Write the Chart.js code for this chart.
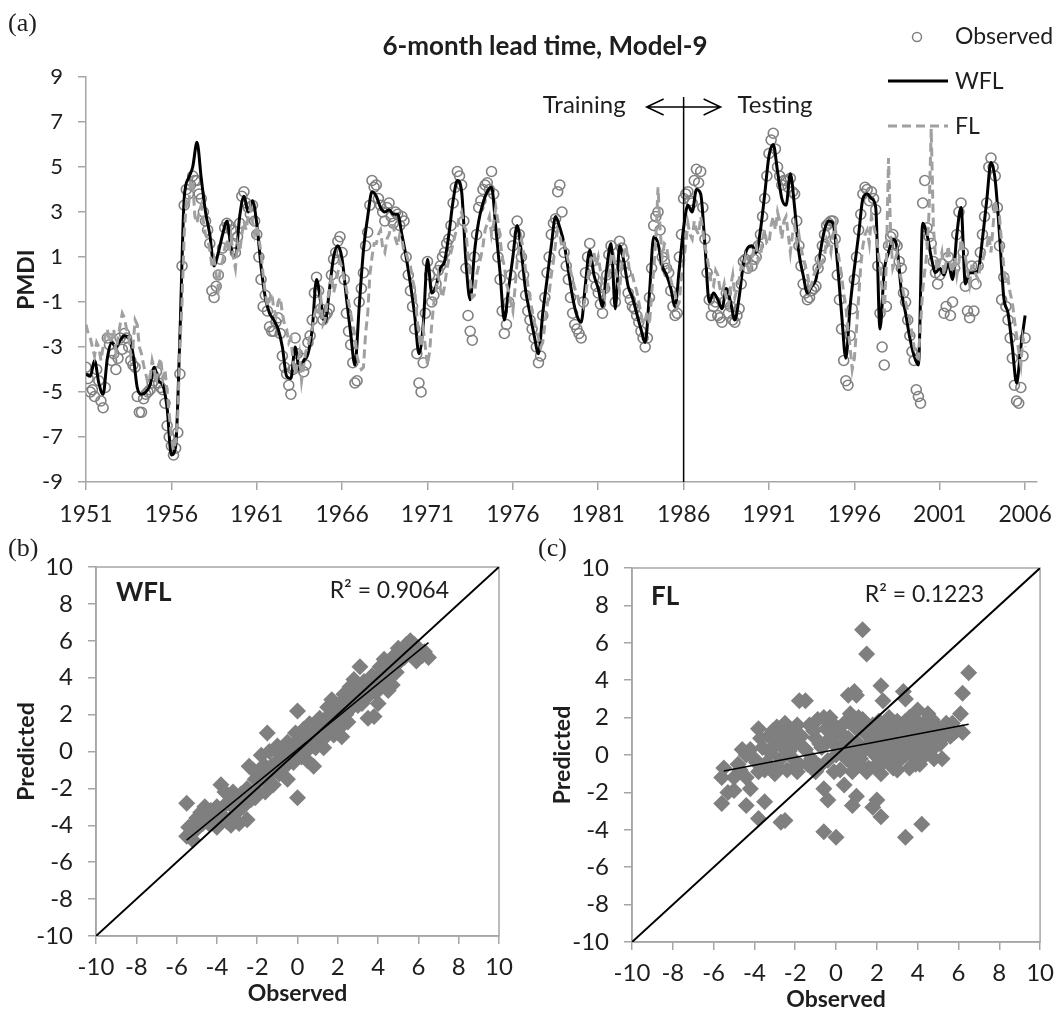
<!DOCTYPE html>
<html>
<head>
<meta charset="utf-8">
<title>PMDI 6-month lead time, Model-9</title>
<script src="https://cdn.jsdelivr.net/npm/chart.js@4.4.0/dist/chart.umd.min.js"></script>
<style>
  body { margin: 0; background: #fff; }
  #wrap { position: relative; width: 1063px; height: 1012px; overflow: hidden; background: #fff; }
  #wrap canvas { position: absolute; }
</style>
</head>
<body>
<div id="wrap">
  <canvas id="chart-ts" width="1063" height="525" style="left:0;top:0"></canvas>
  <canvas id="chart-wfl" width="530" height="487" style="left:0;top:525px"></canvas>
  <canvas id="chart-fl" width="533" height="487" style="left:530px;top:525px"></canvas>
</div>
<script>
// ---- time series (a): quarterly readings (.0 .25 .5 .75), one row per year ----
const startYear = 1951;
const stepYears = 0.25;
const midOffset = 0.125;   // the "Mid" arrays sit halfway between the quarterly readings
const yearTicks = [1951, 1956, 1961, 1966, 1971, 1976, 1981, 1986, 1991, 1996, 2001, 2006];
const pmdiTicks = [-9, -7, -5, -3, -1, 1, 3, 5, 7, 9];
const splitYear = 1986;

const observed = [
  -3.9, -5.0, -5.2, -4.5,   -5.7, -2.6, -3.6, -4.0,   -2.6, -2.4, -3.0, -3.8,   -5.2, -5.9, -5.1, -4.9,
  -4.3, -4.6, -4.9, -6.5,   -7.4, -7.5, -4.2, 3.3,    3.8, 4.6, 4.4, 3.6,       2.6, 1.6, -0.8, 0.2,
  1.4, 2.5, 2.2, 1.2,       2.5, 3.9, 3.2, 3.3,       2.0, 0.0, -0.7, -2.1,     -2.3, -1.7, -3.4, -4.2,
  -5.1, -2.6, -3.9, -4.1,   -2.8, -1.8, 0.1, -1.3,    -1.6, -1.3, 0.9, 1.7,     1.2, -1.5, -2.9, -4.6,
  -1.0, 0.3, 2.1, 4.4,      4.2, 3.3, 2.6, 3.4,       2.5, 2.9, 2.8, 1.0,       -0.5, -2.2, -4.6, -3.7,
  0.8, -1.0, -0.2, 0.6,     1.2, 1.8, 3.4, 4.8,       4.2, 0.5, -2.3, 1.0,      3.2, 4.0, 4.3, 4.8,
  2.0, 0.0, -2.4, -1.0,     1.5, 2.6, 1.0, -0.7,      -1.8, -2.6, -3.7, -1.6,   0.3, 2.0, 2.7, 4.2,
  1.2, 0.0, -1.5, -2.2,     -2.6, 0.3, 1.6, 0.1,      -0.6, -1.5, 0.2, 1.5,     -1.0, 1.7, 1.0, -0.6,
  -1.2, -1.6, -2.3, -3.0,   -0.8, 2.4, 3.0, 1.0,      0.5, -0.5, -1.6, 1.0,     3.6, 3.9, 3.4, 4.9,
  4.8, 1.8, -0.9, -1.2,     -1.6, -1.9, -0.6, -1.2,   -1.9, -1.3, 0.8, 0.5,     0.6, 1.0, 2.0, 3.6,
  5.6, 6.5, 5.0, 4.2,       4.4, 4.5, 3.8, 1.5,       -0.2, -0.9, -0.5, -0.3,   0.9, 2.0, 2.5, 2.6,
  0.2, -2.2, -4.5, -2.5,    0.0, 2.2, 3.8, 4.0,       3.9, 3.1, -1.5, -3.8,     1.5, 2.0, 1.5, 0.5,
  -1.0, -2.5, -3.6, -5.2,   3.4, 2.3, 1.6, 0.3,       0.2, -1.5, 1.0, -1.0,     2.0, 3.4, -0.3, -1.7,
  -1.4, 0.6, 2.0, 3.4,      5.4, 4.6, 1.5, 0.1,       -1.8, -3.5, -5.4, -4.8,   -2.6
];
const observedMid = [
  -4.4, -4.9, -4.0, -5.4,   -4.8, -2.9, -3.3, -3.5,   -3.1, -2.6, -3.6, -3.9,   -5.9, -5.3, -5.0, -4.6,
  -4.1, -4.8, -5.5, -7.0,   -7.8, -6.8, 0.6, 4.0,     4.2, 4.4, 3.8, 3.0,       2.2, -0.5, -0.3, 0.9,
  2.3, 2.4, 1.6, 1.9,       3.7, 3.4, 2.9, 2.6,       1.0, -1.2, -1.4, -2.3,    -1.9, -2.4, -3.9, -4.7,
  -4.0, -3.3, -3.5, -3.8,   -2.5, -0.6, -0.5, -1.8,   -1.5, 0.2, 1.2, 1.9,      0.0, -2.3, -3.7, -4.5,
  -0.4, 1.5, 3.3, 4.1,      3.6, 3.0, 3.2, 2.8,       3.0, 2.4, 2.6, 0.2,       -1.2, -3.3, -5.0, -1.5,
  0.2, -0.7, 0.4, 1.0,      1.6, 2.4, 4.1, 4.6,       2.6, -1.6, -2.7, 2.0,     3.5, 4.2, 4.0, 3.8,
  1.0, -1.4, -2.0, 0.2,     2.1, 2.0, 0.2, -1.4,      -2.2, -3.0, -3.4, -0.8,   1.0, 2.5, 3.9, 3.0,
  0.6, -0.8, -2.0, -2.4,    -1.0, 1.0, 0.8, -0.3,     -1.1, -0.4, 1.1, 0.5,     0.6, 1.4, 0.3, -0.9,
  -1.3, -1.9, -2.6, -2.6,   0.5, 2.8, 2.2, 0.8,       0.3, -1.2, -1.5, 2.0,     3.8, 3.5, 4.4, 4.3,
  3.2, 0.3, -1.6, -1.0,     -1.7, -1.0, -1.5, -1.8,   -1.6, -0.2, 0.9, 1.2,     0.9, 1.5, 2.8, 4.6,
  6.2, 5.8, 4.6, 4.4,       4.1, 3.9, 2.6, 0.6,       -0.6, -0.8, -0.4, 0.5,    1.5, 2.4, 2.6, 1.8,
  -0.9, -3.6, -4.7, -1.3,   1.0, 2.9, 4.1, 3.5,       3.6, 0.6, -3.0, -1.2,     1.9, 1.6, 0.8, -0.6,
  -1.8, -3.2, -4.9, -5.5,   4.4, 1.9, 0.8, -0.2,      0.7, -1.2, -1.6, 0.5,     3.0, 1.2, -1.4, 0.6,
  -0.2, 1.2, 2.8, 5.0,      5.0, 3.2, -0.9, -1.2,     -2.6, -4.7, -5.5, -3.4
];

const wfl = [
  -4.2, -4.3, -3.6, -4.6,   -5.1, -3.5, -2.8, -3.0,   -2.7, -2.5, -2.6, -3.3,   -4.8, -5.1, -5.0, -4.7,
  -3.9, -4.5, -4.7, -5.7,   -7.8, -7.4, -2.5, 3.6,    4.5, 5.0, 6.1, 4.5,       3.0, 2.0, 0.6, 1.2,
  2.0, 2.6, 1.4, 1.0,       2.8, 3.7, 3.0, 3.5,       2.5, 0.6, -0.8, -1.5,     -1.8, -2.2, -3.0, -4.3,
  -4.4, -3.0, -4.0, -3.6,   -3.3, -2.2, 0.0, -1.0,    -1.9, -0.5, 1.0, 1.5,     0.9, -0.8, -2.4, -3.8,
  -1.2, 1.3, 2.8, 3.9,      3.7, 3.2, 3.0, 3.1,       2.9, 2.9, 2.0, 1.0,       -0.2, -1.6, -3.3, -2.0,
  0.9, -0.6, -0.3, 0.5,     0.8, 2.0, 3.5, 4.4,       3.9, 0.8, -0.9, 1.2,      2.6, 3.4, 3.9, 4.1,
  2.3, 0.3, -1.8, -0.4,     1.0, 2.4, 1.2, -0.5,      -1.5, -2.5, -3.3, -1.5,   0.0, 1.5, 2.8, 2.3,
  1.6, 0.4, -0.8, -1.6,     -1.9, -0.2, 1.3, 0.2,     -0.4, -1.2, 0.5, 1.6,     -1.3, 1.5, 0.8, -0.3,
  -0.8, -1.5, -2.2, -2.8,   -0.6, 1.9, 1.6, 0.6,      0.2, -0.4, -1.2, 0.5,     2.3, 3.3, 3.0, 4.0,
  3.8, 1.5, -1.0, -0.6,     -0.9, -1.3, -0.4, -1.0,   -1.8, -0.8, 0.7, 1.4,     1.5, 1.2, 2.2, 3.8,
  5.5, 6.0, 4.8, 3.6,       3.3, 4.7, 3.2, 1.2,       0.2, -0.6, -0.3, 0.0,     1.2, 2.2, 2.6, 2.5,
  0.8, -1.5, -3.5, -1.2,    0.5, 2.0, 3.6, 3.8,       3.6, 3.2, -2.2, 0.4,      1.2, 1.8, 1.4, -0.5,
  -1.5, -2.6, -3.4, -3.8,   2.5, 2.0, 1.0, 0.3,       0.5, 0.2, 0.7, 0.0,       2.0, 3.2, -0.2, 0.3,
  0.3, 0.4, 1.8, 3.5,       5.2, 4.4, 2.0, -0.8,      -1.5, -3.0, -4.6, -3.0,   -1.6
];

const fl = [
  -2.0, -2.6, -3.4, -3.0,   -3.0, -2.2, -2.6, -3.2,   -2.0, -1.7, -2.5, -3.0,   -2.0, -3.3, -4.2, -4.4,
  -4.0, -3.8, -4.4, -5.0,   -7.0, -7.2, -3.0, 2.0,    3.2, 4.4, 2.5, 3.3,       2.0, 1.3, 0.9, -0.4,
  0.8, 1.8, 1.9, 0.5,       1.2, 2.6, 2.8, 2.6,       2.4, 1.2, -0.6, -0.9,     -1.3, -1.0, -1.5, -2.2,
  -2.6, -4.2, -3.3, -3.8,   -3.0, -2.2, -1.2, -0.8,   -1.8, -0.5, -0.6, 0.3,    0.5, -0.4, -1.5, -2.5,
  -3.8, -3.9, -1.5, 1.0,    1.6, 2.2, 1.2, 2.0,       2.4, 1.5, 1.8, 1.2,       0.6, -0.4, -2.5, -2.2,
  -3.8, -2.0, -0.5, -0.4,   -0.3, 0.9, 1.6, 2.4,      3.0, 2.2, 0.0, -0.7,      0.6, 1.5, 2.5, 2.0,
  3.2, 1.8, 0.6, -0.5,      -1.4, 0.8, 1.8, 0.4,      -0.8, -1.9, -2.6, -2.8,   -1.2, 0.2, 1.6, 2.0,
  1.6, 0.8, 0.0, -0.6,      -1.0, -0.8, 0.6, 1.2,     1.0, -0.3, -0.6, 0.9,     0.5, -0.5, 1.2, 0.8,
  0.2, -0.5, -1.5, -1.8,    -2.0, 0.4, 4.1, 1.0,      1.5, 0.0, -0.6, -1.0,     0.8, 2.5, 1.8, 2.2,
  2.8, 1.5, 0.4, -0.3,      0.2, -0.6, -0.9, -0.3,    -0.8, 0.0, 0.5, 0.6,      0.9, 1.6, 1.0, 2.2,
  1.6, 2.8, 3.0, 1.8,       2.8, 1.2, 2.4, 2.0,       1.0, 0.3, -0.2, 0.4,      0.4, 1.0, 1.6, 2.0,
  1.4, 0.2, -1.2, -3.0,     -3.5, -0.8, 1.5, 2.2,     2.8, 2.0, 0.5, -1.5,      5.4, 0.5, 1.2, 0.0,
  -1.0, -1.8, -3.0, -3.5,   -0.5, 1.2, 6.7, 1.0,      0.8, 0.2, 1.5, 0.3,       0.2, 1.8, 1.0, -0.2,
  0.6, 0.0, 0.8, 1.4,       1.2, 3.5, 2.8, 0.6,       0.0, -1.0, -2.5, -3.8,    -3.0
];
const flMid = [
  -2.4, -3.0, -2.8, -3.6,   -2.5, -2.8, -2.2, -2.6,   -1.5, -2.2, -3.4, -1.8,   -3.0, -3.8, -4.6, -3.6,
  -4.6, -3.5, -4.0, -6.0,   -7.6, -6.0, -1.0, 3.4,    4.4, 2.8, 3.0, 2.6,       1.8, 0.6, 0.2, 0.6,
  1.4, 1.2, 1.0, 1.6,       2.0, 2.2, 3.2, 2.0,       1.8, 0.2, -1.2, -0.6,     -1.6, -0.8, -2.0, -2.8,
  -3.6, -3.8, -4.5, -3.2,   -2.5, -1.6, -1.4, -2.0,   -1.0, 0.2, -0.2, 0.8,     0.0, -1.0, -2.0, -3.4,
  -4.0, -2.4, 0.2, 1.6,     2.0, 1.4, 1.8, 2.4,       1.8, 2.0, 1.2, 0.8,       0.0, -1.6, -3.0, -3.0,
  -3.2, -1.0, 0.2, -0.8,    0.4, 1.2, 2.0, 2.8,       2.4, 1.0, -0.8, 0.2,      1.0, 2.2, 2.8, 2.5,
  2.6, 1.0, -0.2, -1.0,     -0.4, 1.4, 1.2, -0.2,     -1.4, -2.2, -3.0, -2.0,   -0.6, 0.8, 2.2, 1.4,
  1.2, 0.4, -0.4, -1.0,     -1.2, 0.0, 1.0, 0.6,      0.4, -0.8, 0.2, 1.2,      0.0, 0.6, 1.5, 0.2,
  -0.2, -1.0, -2.0, -1.4,   -0.6, 1.8, 2.2, 1.6,      0.8, -0.4, -1.2, 0.2,     1.6, 2.0, 2.6, 2.0,
  2.2, 1.0, -0.2, 0.4,      -0.4, -0.2, -1.2, 0.2,    -0.4, 0.6, 1.0, 0.2,      1.4, 0.8, 1.8, 1.6,
  2.4, 2.2, 2.6, 2.6,       2.0, 2.0, 1.6, 1.4,       0.6, -0.4, 0.2, 0.8,      0.8, 1.8, 1.2, 2.4,
  0.8, -0.6, -2.2, -4.0,    -2.2, 0.6, 2.0, 1.6,      2.4, 1.4, -0.4, 0.8,      2.0, 0.8, 0.4, -0.6,
  -1.4, -2.4, -3.4, -2.0,   0.4, 3.0, 2.4, 0.4,       1.2, 0.8, 0.6, 1.0,       0.8, 1.4, 0.4, 0.6,
  0.2, 0.6, 1.2, 2.0,       2.4, 3.0, 1.6, -0.2,      -0.6, -1.8, -3.2, -2.6
];

// ---- scatter (b) WFL and (c) FL: observed vs predicted ----
const scatterTicks = [-10, -8, -6, -4, -2, 0, 2, 4, 6, 8, 10];
const oneToOne = [-10, 10];

const wflObserved = [
  -5.5, -5.5, -5.3, -5.2, -5.0, -5.0, -4.8, -4.6, -4.6, -4.4,
  -4.2, -4.0, -4.0, -3.9, -3.8, -3.6, -3.5, -3.4, -3.3, -3.2,
  -3.1, -3.0, -2.9, -2.8, -2.7, -2.5, -2.5, -2.4, -2.3, -2.2,
  -2.1, -2.0, -1.9, -1.8, -1.6, -1.6, -1.5, -1.5, -1.4, -1.3,
  -1.2, -1.0, -1.0, -0.9, -0.8, -0.6, -0.5, -0.5, -0.4, -0.3,
  -0.2, -0.1, 0.0, 0.0, 0.0, 0.1, 0.2, 0.2, 0.3, 0.4,
  0.5, 0.5, 0.6, 0.7, 0.8, 0.9, 0.9, 1.0, 1.1, 1.2,
  1.3, 1.3, 1.4, 1.5, 1.6, 1.6, 1.7, 1.8, 1.9, 2.0,
  2.0, 2.1, 2.2, 2.3, 2.3, 2.4, 2.5, 2.6, 2.6, 2.7,
  2.8, 2.9, 3.0, 3.1, 3.2, 3.3, 3.4, 3.5, 3.6, 3.7,
  3.8, 3.9, 4.0, 4.1, 4.2, 4.3, 4.4, 4.5, 4.6, 4.7,
  4.8, 4.9, 5.0, 5.1, 5.2, 5.3, 5.4, 5.5, 5.6, 5.7,
  5.9, 6.0, 6.2, 6.5,
  -5.4, -5.1, -4.9, -4.7, -4.5, -4.3, -4.1, -3.7, -3.6, -3.2,
  -2.9, -2.6, -2.4, -2.1, -1.9, -1.7, -1.4, -1.1, -0.9, -0.7,
  -0.6, -0.3, -0.1, 0.1, 0.3, 0.4, 0.6, 0.8, 1.0, 1.2,
  1.4, 1.5, 1.8, 2.1, 2.4, 2.5, 2.8, 3.0, 3.2, 3.5,
  3.8, 4.0, 4.2, 4.4, 4.7, 4.9, 5.1, 5.3, 5.8, 6.3
];
const wflPredicted = [
  -2.8, -4.6, -4.4, -4.8, -4.2, -3.6, -3.3, -3.6, -3.0, -3.9,
  -3.6, -4.1, -3.0, -3.2, -1.8, -2.2, -3.8, -2.8, -4.0, -2.2,
  -3.4, -2.5, -3.9, -2.3, -3.0, -3.7, -2.0, -0.8, -2.6, -1.0,
  -1.5, -2.2, -1.0, -0.2, -2.2, -0.8, 1.0, -1.6, 0.0, -0.8,
  -1.8, -0.5, 0.3, -1.2, -0.2, -0.8, -1.5, 0.5, -0.2, 0.2,
  -0.6, 1.0, 2.2, -2.5, 0.6, 0.4, -0.3, 0.0, 1.2, 0.0,
  0.8, -0.5, 1.5, 0.3, -0.8, 1.0, 0.2, 0.4, 1.8, 0.9,
  0.2, 1.0, 1.5, 2.4, 1.2, 2.0, 2.8, 0.9, 2.0, 1.4,
  2.2, 2.6, 0.8, 3.1, 1.5, 2.0, 1.6, 3.5, 2.8, 2.4,
  3.9, 2.8, 3.3, 4.6, 2.6, 3.8, 3.0, 1.8, 3.5, 4.1,
  1.9, 3.2, 2.6, 4.6, 3.7, 5.0, 3.9, 3.3, 4.7, 3.6,
  5.2, 4.3, 5.6, 4.9, 5.5, 5.1, 5.8, 5.3, 6.0, 5.4,
  4.9, 5.6, 5.2, 5.1,
  -4.1, -3.9, -3.7, -3.9, -3.4, -3.2, -3.3, -3.5, -2.9, -3.0,
  -2.7, -2.4, -2.2, -2.5, -1.6, -1.3, -1.2, -1.0, -0.6, -0.6,
  0.1, -0.4, 0.3, -0.1, 0.4, 0.8, 0.2, 0.6, 1.0, 1.4,
  0.8, 1.6, 1.5, 1.7, 2.5, 2.2, 3.1, 2.5, 3.3, 3.0,
  3.6, 3.6, 4.3, 4.4, 4.2, 4.9, 5.2, 5.6, 5.8, 5.4
];
const wflTrendX = [-5.5, 6.5];
const wflTrendY = [-4.8, 5.9];

const flObserved = [
  1.3, 1.5, 6.5, 6.2, 6.1, 2.2, 3.3, 3.4, 0.9, 0.6,
  1.0, -1.8, -1.5, 2.3, -5.5, -5.6, -5.3, -5.0, -5.6, -4.4,
  -4.2, -3.8, -3.5, -2.7, -2.5, -0.6, 0.0, 3.4, 4.2, 2.2,
  2.0, 1.8, 0.8, 1.0, -0.4, -0.6, 0.4, -4.4, -3.8, -2.9,
  -2.5, 4.0, 4.5, 5.7, 5.6, 5.2, 4.8, 3.9, 2.8, 2.2,
  -4.7, -3.5, -3.0, -2.4,
  -3.6, -3.3, -3.0, -2.8, -2.6, -2.3, -2.2, -2.0, -1.8, -1.7,
  -1.5, -1.3, -1.2, -1.0, -0.9, -0.8, -0.7, -0.5, -0.4, -0.3,
  -0.2, 0.0, 0.1, 0.2, 0.3, 0.4, 0.5, 0.6, 0.7, 0.8,
  0.9, 1.0, 1.1, 1.2, 1.3, 1.4, 1.5, 1.6, 1.7, 1.8,
  1.9, 2.0, 2.1, 2.2, 2.3, 2.4, 2.5, 2.6, 2.7, 2.8,
  2.9, 3.0, 3.1, 3.2, 3.3, 3.4, 3.5, 3.6, 3.7, 3.8,
  3.9, 4.0, 4.1, 4.2, 4.3, 4.4, 4.5, 4.6, 4.7, 4.8,
  5.0, 5.1, 5.3, 5.5, 5.8, -3.9, -4.2, -4.8, -2.7, -1.9,
  -0.1, 1.5, 3.0, 4.3,
  -4.6, -4.0, -3.7, -3.4, -3.1, -2.9, -2.7, -2.4, -2.1, -1.9,
  -1.6, -1.4, -1.1, -0.8, -0.6, -0.3, -0.1, 0.2, 0.4, 0.6,
  0.9, 1.1, 1.3, 1.6, 1.8, 2.0, 2.3, 2.5, 2.7, 3.0,
  3.2, 3.4, 3.6, 3.8, 4.0, 4.2, 4.4, 4.6, 4.9, 5.2,
  5.4, 5.6, -3.2, -2.0, -1.0, 0.0, 0.8, 1.9, 2.6, 3.6,
  4.1, 4.9, 5.9, 6.2, -5.0, -4.4, -3.8
];
const flPredicted = [
  6.7, 5.4, 4.4, 3.3, 2.2, 3.7, 3.4, 3.0, 3.4, 3.2,
  3.2, 2.9, 2.9, 2.9, -0.7, -1.2, -2.0, -1.9, -2.6, -2.7,
  -1.8, -3.4, -2.5, -3.6, -3.5, -4.1, -4.4, -4.4, -3.7, -3.3,
  -2.4, -2.8, -2.7, -2.2, -2.4, -1.8, -1.6, 0.0, 1.4, 1.5,
  1.7, 2.4, 2.2, 1.7, 1.0, -0.2, -0.2, -0.5, -0.7, -1.0,
  -0.8, -0.8, -1.0, -0.8,
  0.4, 1.0, 0.5, 1.2, 0.8, 0.2, 1.3, 0.6, -0.5, 1.0,
  0.3, 1.6, -0.2, 0.9, 1.9, -0.6, 0.4, 1.4, -0.3, 2.0,
  0.7, 0.0, 1.2, -0.8, 0.5, 1.7, -0.2, 0.9, 2.2, 0.2,
  -0.6, 1.4, 0.6, -0.2, 1.9, 0.3, 1.1, -0.7, 0.7, 1.6,
  0.0, 0.9, 1.8, 0.4, -0.4, 1.3, 0.7, 2.0, 0.1, 1.0,
  1.6, 0.5, -0.3, 1.2, 0.3, 1.8, 0.8, 1.4, 0.0, 1.0,
  1.9, 0.6, 1.3, 0.2, 1.7, 0.9, 1.4, 0.4, 1.9, 1.0,
  1.5, 0.6, 1.2, 1.4, 1.2, -0.4, 0.3, -0.5, -0.2, -0.9,
  -0.9, -0.9, -0.8, -0.1,
  0.3, -0.2, 0.9, -0.4, 1.3, -0.6, 0.5, 1.0, -0.2, 1.6,
  0.4, -0.5, 1.3, 0.6, 2.0, 0.9, 1.6, 0.3, 1.0, 1.8,
  0.5, 2.0, -0.6, 1.4, 0.2, 1.4, 0.9, -0.2, 1.5, 1.8,
  0.7, 0.0, 2.0, 0.4, 1.6, 1.2, 0.2, 1.6, 0.5, 0.9,
  1.7, 1.3, 0.1, -0.6, -0.9, 1.5, -0.9, -0.6, 0.4, -0.7,
  -0.5, 1.2, 1.3, 1.2, -1.2, -1.2, -0.9
];
const flTrendX = [-5.5, 6.5];
const flTrendY = [-0.85, 1.65];

// ---- shared styling ----
const AXIS_GREY = '#a6a6a6';
const TEXT = '#1e1e1e';
const FONT = 'Lato, "Open Sans", sans-serif';

function toSeries(vals, offset) {
  return vals.map((v, i) => ({ x: startYear + (offset || 0) + i * stepYears, y: v }));
}
function merged(a, b) {
  return toSeries(a, 0).concat(toSeries(b, midOffset)).sort((p, q) => p.x - q.x);
}
function pairs(xs, ys) {
  return xs.map((x, i) => ({ x, y: ys[i] }));
}
function fixedTicks(list) {
  return scale => { scale.ticks = list.map(v => ({ value: v })); };
}

// decorations for (a): panel label, title, legend, training/testing split
const tsDecor = {
  id: 'tsDecor',
  afterDraw(chart) {
    const { ctx, chartArea, scales } = chart;
    ctx.save();
    ctx.fillStyle = TEXT;
    ctx.textBaseline = 'middle';

    ctx.font = '26px "Liberation Serif", serif';
    ctx.textAlign = 'left';
    ctx.fillText('(a)', 8, 24);

    ctx.font = 'bold 26px ' + FONT;
    ctx.textAlign = 'center';
    ctx.fillText('6-month lead time, Model-9', 545, 47);

    ctx.save();
    ctx.translate(27, (chartArea.top + chartArea.bottom) / 2);
    ctx.rotate(-Math.PI / 2);
    ctx.font = 'bold 23px ' + FONT;
    ctx.fillText('PMDI', 0, 0);
    ctx.restore();

    // training / testing divider
    const sx = scales.x.getPixelForValue(splitYear);
    ctx.strokeStyle = '#000';
    ctx.lineWidth = 1.5;
    ctx.beginPath();
    ctx.moveTo(sx, 97);
    ctx.lineTo(sx, chartArea.bottom);
    ctx.stroke();
    const ay = 107;
    ctx.beginPath();
    ctx.moveTo(sx - 37, ay); ctx.lineTo(sx + 37, ay);
    ctx.moveTo(sx - 20, ay - 8); ctx.lineTo(sx - 37, ay); ctx.lineTo(sx - 20, ay + 8);
    ctx.moveTo(sx + 20, ay - 8); ctx.lineTo(sx + 37, ay); ctx.lineTo(sx + 20, ay + 8);
    ctx.stroke();
    ctx.font = '24px ' + FONT;
    ctx.textAlign = 'right';
    ctx.fillText('Training', sx - 58, 105);
    ctx.textAlign = 'left';
    ctx.fillText('Testing', sx + 54, 105);

    // legend
    ctx.font = '23px ' + FONT;
    ctx.fillText('Observed', 955, 37);
    ctx.fillText('WFL', 955, 82);
    ctx.fillText('FL', 955, 127);
    ctx.strokeStyle = '#808080';
    ctx.lineWidth = 1.5;
    ctx.beginPath();
    ctx.arc(917, 37, 4.5, 0, Math.PI * 2);
    ctx.stroke();
    ctx.strokeStyle = '#000';
    ctx.lineWidth = 3;
    ctx.beginPath();
    ctx.moveTo(888, 81); ctx.lineTo(948, 81);
    ctx.stroke();
    ctx.strokeStyle = '#a0a0a0';
    ctx.setLineDash([9, 5]);
    ctx.beginPath();
    ctx.moveTo(888, 126); ctx.lineTo(948, 126);
    ctx.stroke();
    ctx.restore();
  }
};

new Chart(document.getElementById('chart-ts'), {
  type: 'line',
  data: {
    datasets: [
      { label: 'Observed', data: merged(observed, observedMid), showLine: false, pointStyle: 'circle',
        pointRadius: 5, pointHoverRadius: 5, pointBorderColor: '#808080', pointBorderWidth: 1.6,
        pointBackgroundColor: 'rgba(255,255,255,0)', order: 3 },
      { label: 'WFL', data: toSeries(wfl, 0), borderColor: '#000', borderWidth: 3,
        pointRadius: 0, cubicInterpolationMode: 'monotone', order: 2 },
      { label: 'FL', data: merged(fl, flMid), borderColor: '#a0a0a0', borderWidth: 3,
        borderDash: [9, 5], pointRadius: 0, order: 1 }
    ]
  },
  options: {
    responsive: false,
    animation: false,
    devicePixelRatio: 1,
    layout: { padding: { top: 77, right: 16, bottom: 0, left: 0 } },
    plugins: { legend: { display: false }, tooltip: { enabled: false } },
    scales: {
      x: {
        type: 'linear', min: 1951, max: 2006.7,
        afterBuildTicks: fixedTicks(yearTicks),
        afterFit: s => { s.height = 43; },
        grid: { drawOnChartArea: false, drawTicks: true, tickLength: 8, color: AXIS_GREY, lineWidth: 1.5 },
        border: { color: AXIS_GREY, width: 1.5 },
        ticks: { font: { family: FONT, size: 23 }, color: TEXT, padding: 11, maxRotation: 0,
                 autoSkip: false, callback: v => String(v) }
      },
      y: {
        min: -9, max: 9,
        afterBuildTicks: fixedTicks(pmdiTicks),
        afterFit: s => { s.width = 86; },
        grid: { drawOnChartArea: false, drawTicks: true, tickLength: 8, color: AXIS_GREY, lineWidth: 1.5 },
        border: { color: AXIS_GREY, width: 1.5 },
        ticks: { font: { family: FONT, size: 22 }, color: TEXT, padding: 15 }
      }
    }
  },
  plugins: [tsDecor]
});

// ---- scatter panels ----
function scatterDecor(panel, name, r2, nameDx, r2Dx, textDy) {
  return {
    id: 'decor' + name,
    beforeDatasetsDraw(chart) {
      const { ctx, chartArea: a } = chart;
      ctx.save();
      ctx.strokeStyle = AXIS_GREY;
      ctx.lineWidth = 1.5;
      ctx.strokeRect(a.left, a.top, a.right - a.left, a.bottom - a.top);
      ctx.restore();
    },
    afterDraw(chart) {
      const { ctx, chartArea: a } = chart;
      ctx.save();
      ctx.fillStyle = TEXT;
      ctx.textBaseline = 'middle';
      ctx.textAlign = 'left';
      ctx.font = '26px "Liberation Serif", serif';
      ctx.fillText(panel, 8, 24);
      ctx.font = 'bold 26px ' + FONT;
      ctx.fillText(name, a.left + nameDx, a.top + textDy);
      ctx.font = '23px ' + FONT;
      ctx.textAlign = 'right';
      ctx.fillText(r2, a.right - r2Dx, a.top + textDy - 2);
      ctx.textAlign = 'center';
      ctx.font = 'bold 23px ' + FONT;
      ctx.fillText('Observed', (a.left + a.right) / 2, a.bottom + 58);
      ctx.save();
      ctx.translate(a.left - 69, (a.top + a.bottom) / 2);
      ctx.rotate(-Math.PI / 2);
      ctx.fillText('Predicted', 0, 0);
      ctx.restore();
      ctx.restore();
    }
  };
}

function scatterChart(id, obs, pred, trendX, trendY, decor, pad, yWidth, xHeight) {
  const axis = (extra) => Object.assign({
    type: 'linear', min: -10, max: 10,
    afterBuildTicks: fixedTicks(scatterTicks),
    grid: { drawOnChartArea: false, drawTicks: true, tickLength: 8, color: AXIS_GREY, lineWidth: 1.5 },
    border: { color: AXIS_GREY, width: 1.5 },
  }, extra);
  return new Chart(document.getElementById(id), {
    type: 'scatter',
    data: {
      datasets: [
        { data: pairs(obs, pred), pointStyle: 'rectRot', pointRadius: 8.5, pointHoverRadius: 8.5,
          backgroundColor: '#7f7f80', borderWidth: 0, order: 3 },
        { type: 'line', data: pairs(trendX, trendY), borderColor: '#000', borderWidth: 1.5,
          pointRadius: 0, order: 2 },
        { type: 'line', data: pairs(oneToOne, oneToOne), borderColor: '#000', borderWidth: 2,
          pointRadius: 0, order: 1 }
      ]
    },
    options: {
      responsive: false,
      animation: false,
      devicePixelRatio: 1,
      layout: { padding: pad },
      plugins: { legend: { display: false }, tooltip: { enabled: false } },
      scales: {
        x: axis({
          afterFit: s => { s.height = xHeight; },
          ticks: { font: { family: FONT, size: 24 }, color: TEXT, padding: 9, maxRotation: 0, autoSkip: false }
        }),
        y: axis({
          afterFit: s => { s.width = yWidth; },
          ticks: { font: { family: FONT, size: 24 }, color: TEXT, padding: 15 }
        })
      }
    },
    plugins: [decor]
  });
}

scatterChart('chart-wfl', wflObserved, wflPredicted, wflTrendX, wflTrendY,
  scatterDecor('(b)', 'WFL', 'R\u00b2 = 0.9064', 20, 50, 26),
  { top: 42, right: 31, bottom: 0, left: 0 }, 96, 76);

scatterChart('chart-fl', flObserved, flPredicted, flTrendX, flTrendY,
  scatterDecor('(c)', 'FL', 'R\u00b2 = 0.1223', 19, 56, 29),
  { top: 43, right: 15, bottom: 0, left: 0 }, 102, 70);
</script>
</body>
</html>
